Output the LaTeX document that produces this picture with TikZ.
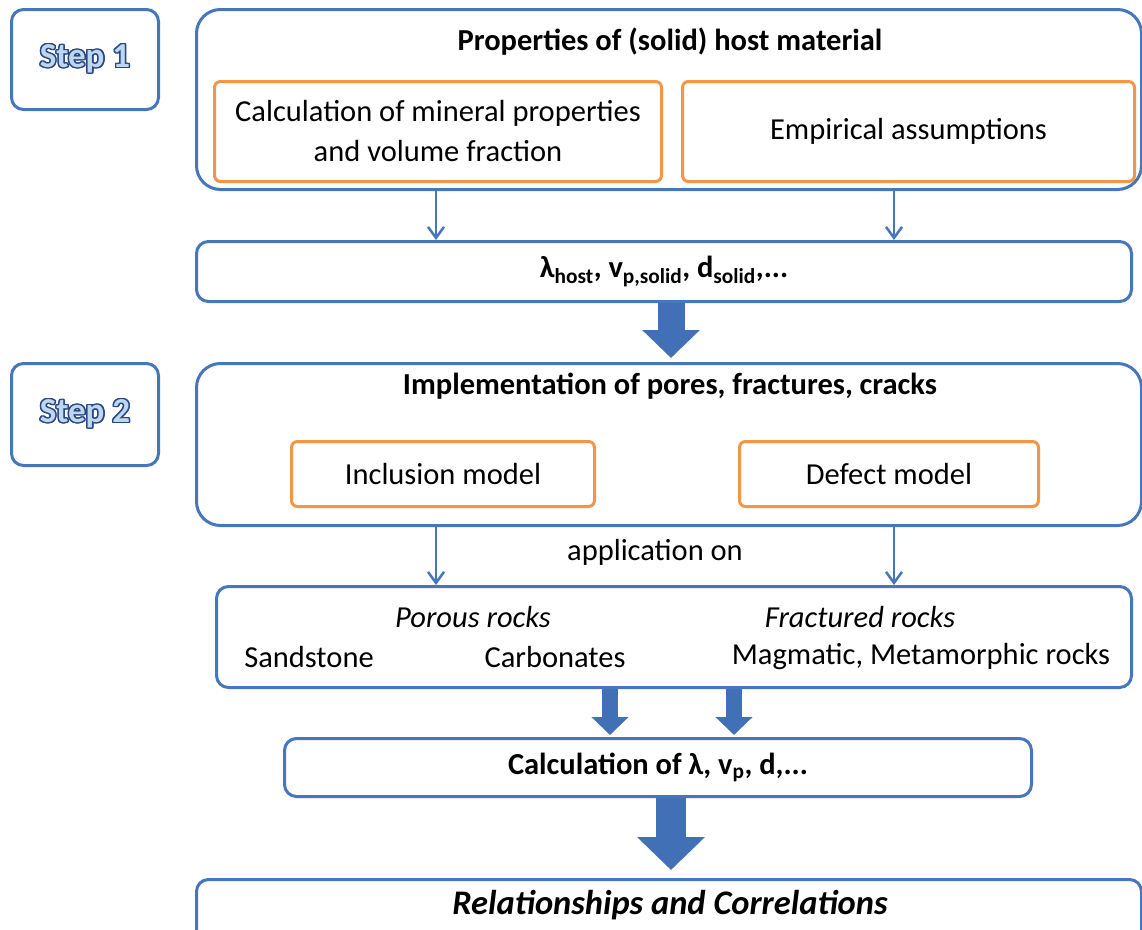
\documentclass[tikz,border=0pt]{standalone}
\usepackage{fontspec}
\setmainfont{Carlito}
\usepackage{tikz}
\usepackage{contour}
\usetikzlibrary{arrows.meta}
\definecolor{boxblue}{RGB}{70,118,188}
\definecolor{boxorange}{RGB}{240,150,70}
\definecolor{arrowblue}{RGB}{66,112,182}
\definecolor{stepfill}{RGB}{190,215,240}
\definecolor{stepline}{RGB}{40,70,130}
\contourlength{1.4pt}

\tikzset{
  bluebox/.style={draw=boxblue, line width=3pt, rounded corners=24pt, inner sep=0pt, anchor=north west},
  smallbox/.style={draw=boxblue, line width=3pt, rounded corners=12pt, inner sep=0pt, anchor=north west},
  orangebox/.style={draw=boxorange, line width=3pt, rounded corners=6pt, inner sep=0pt, anchor=north west, align=center},
  steplabel/.style={font=\fontsize{35}{40}\selectfont\bfseries},
  bodytext/.style={font=\fontsize{30.5}{40}\selectfont},
  thinarrow/.style={draw=boxblue, line width=2.5pt, -{Straight Barb[length=11pt,width=16pt]}},
  blockarrow/.style={draw=arrowblue, -{Triangle[length=#1pt,width=2*#1pt]}}
}

\begin{document}
\begin{tikzpicture}[x=1pt,y=1pt,yscale=-1,xscale=1]
    \useasboundingbox (0,0) rectangle (1142,929);
    \fill[white] (0,0) rectangle (1142,929);

    %Shape: Step boxes
    \node [smallbox, minimum width=147pt, minimum height=100pt] (step1) at (10,8) {};
    \node [smallbox, minimum width=147pt, minimum height=102pt] (step2) at (10,362) {};
    % Text Node
    \node [steplabel] (step1text) at (step1.center) {\contour{stepline}{\textcolor{stepfill}{Step 1}}};
    % Text Node
    \node [steplabel] (step2text) at (step2.center) {\contour{stepline}{\textcolor{stepfill}{Step 2}}};

    %Shape: Rectangle (host material)
    \node [bluebox, minimum width=945pt, minimum height=180pt] (hostbox) at (195,8) {};
    % Text Node
    \node [bodytext, font=\fontsize{30.5}{40}\selectfont\bfseries] (hosttitle) at (670,42) {Properties of (solid) host material};
    %Shape: Rectangle
    \node [orangebox, bodytext, minimum width=447pt, minimum height=100pt] (mineral) at (213,80) {Calculation of mineral properties\\and volume fraction};
    %Shape: Rectangle
    \node [orangebox, bodytext, minimum width=452pt, minimum height=100pt] (empirical) at (681,80) {Empirical assumptions};

    %Shape: Rectangle (host values)
    \node [smallbox, bodytext, minimum width=935pt, minimum height=60pt, font=\fontsize{30.5}{40}\selectfont\bfseries] (hostval) at (195,240)
      {λ\textsubscript{host}, v\textsubscript{p,solid}, d\textsubscript{solid},...};

    %Shape: Rectangle (pores, fractures)
    \node [bluebox, minimum width=945pt, minimum height=162pt] (implbox) at (195,362) {};
    % Text Node
    \node [bodytext, font=\fontsize{30.5}{40}\selectfont\bfseries] (impltitle) at (670,386) {Implementation of pores, fractures, cracks};
    %Shape: Rectangle
    \node [orangebox, bodytext, minimum width=303pt, minimum height=65pt] (inclusion) at (290,440) {Inclusion model};
    %Shape: Rectangle
    \node [orangebox, bodytext, minimum width=299pt, minimum height=65pt] (defect) at (738,440) {Defect model};

    % Text Node
    \node [bodytext] (application) at (655,552) {application on};

    %Shape: Rectangle (rocks)
    \node [smallbox, minimum width=915pt, minimum height=101pt] (rocks) at (215,585) {};
    % Text Node
    \node [bodytext, font=\fontsize{30.5}{40}\selectfont\itshape] (porous) at (473,617) {Porous rocks};
    % Text Node
    \node [bodytext, font=\fontsize{30.5}{40}\selectfont\itshape] (fractured) at (860,617) {Fractured rocks};
    % Text Node
    \node [bodytext] (sandstone) at (309,657) {Sandstone};
    % Text Node
    \node [bodytext] (carbonates) at (555,657) {Carbonates};
    % Text Node
    \node [bodytext] (magmatic) at (921,657) {Magmatic, Metamorphic rocks};

    %Shape: Rectangle (calculation)
    \node [smallbox, minimum width=747pt, minimum height=58pt, font=\fontsize{30.5}{40}\selectfont\bfseries] (calc) at (283,737)
      {Calculation of λ, v\textsubscript{p}, d,...};

    %Shape: Rectangle (result)
    \node [smallbox, minimum width=945pt, minimum height=80pt] (result) at (195,878) {};
    % Text Node
    \node [font=\fontsize{34.5}{40}\selectfont\bfseries\itshape] (resulttext) at (670,905) {Relationships and Correlations};

    % columns for the connectors
    \coordinate (leftcol) at (436,0);
    \coordinate (rightcol) at (894,0);
    \coordinate (midcol) at (671,0);
    \coordinate (rockcolA) at (610,0);
    \coordinate (rockcolB) at (734,0);

    %Straight Lines
    \draw [thinarrow] (hostbox.south -| leftcol) -- (hostval.north -| leftcol);
    \draw [thinarrow] (hostbox.south -| rightcol) -- (hostval.north -| rightcol);
    \draw [thinarrow] (implbox.south -| leftcol) -- (rocks.north -| leftcol);
    \draw [thinarrow] (implbox.south -| rightcol) -- (rocks.north -| rightcol);

    %Block arrows
    \draw [blockarrow=28, line width=27pt, shorten >=4pt] (hostval.south -| midcol) -- (implbox.north -| midcol);
    \draw [blockarrow=18, line width=16pt, shorten >=2pt] (rocks.south -| rockcolA) -- (calc.north -| rockcolA);
    \draw [blockarrow=18, line width=16pt, shorten >=2pt] (rocks.south -| rockcolB) -- (calc.north -| rockcolB);
    \draw [blockarrow=33, line width=30pt, shorten >=8pt] (calc.south -| midcol) -- (result.north -| midcol);

\end{tikzpicture}
\end{document}
